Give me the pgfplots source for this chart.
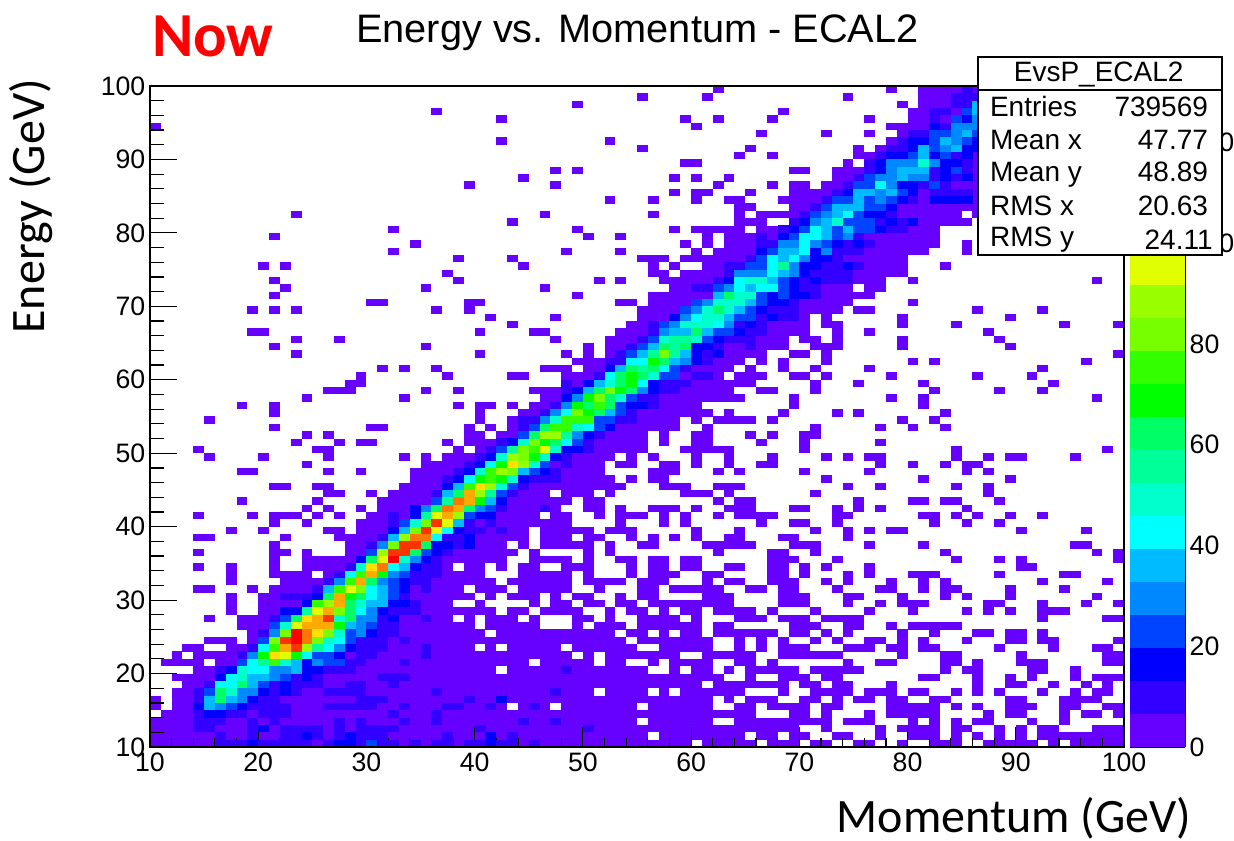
\documentclass[border=0pt]{standalone}
\usepackage{fontspec}
\setmainfont{Liberation Sans}
\newfontfamily\calib{Carlito}
\usepackage{pgfplots}
\pgfplotsset{compat=1.18}
\pgfdeclareplotmark{cell}{\pgfpathrectangle{\pgfqpoint{0pt}{0pt}}{\pgfqpoint{8.15pt}{5.55pt}}\pgfusepathqfill}
\pgfdeclareplotmark{colcell}{\pgfpathrectangle{\pgfqpoint{0pt}{0pt}}{\pgfqpoint{41.25pt}{24.9pt}}\pgfusepathqfill}
\definecolor{L0}{RGB}{102,0,255}
\pgfplotsset{colormap={rootpal}{rgb255=(102,0,255) rgb255=(51,0,255) rgb255=(0,0,255) rgb255=(0,68,255) rgb255=(0,136,255) rgb255=(0,187,255) rgb255=(0,255,255) rgb255=(0,255,204) rgb255=(0,255,153) rgb255=(0,255,102) rgb255=(0,255,0) rgb255=(51,255,0) rgb255=(119,255,0) rgb255=(153,255,0) rgb255=(224,255,0) rgb255=(255,224,0) rgb255=(255,170,0) rgb255=(255,119,0) rgb255=(255,51,0) rgb255=(255,0,0)}}
\newcommand{\tk}{\fontsize{20}{22}\selectfont}
\begin{document}
\begin{tikzpicture}[x=1pt,y=1pt]
\path[use as bounding box] (0,0) rectangle (925.5,630.75);
\begin{axis}[at={(112.5pt,70.5pt)},anchor=south west,scale only axis,width=730.5pt,height=495.75pt,
 xmin=10,xmax=100,ymin=10,ymax=100,axis on top,ytick=\empty,xtick={10,20,...,100},minor x tick num=4,
 xtick pos=bottom,tick align=inside,major tick length=15pt,minor tick length=7pt,
 tick style={black,line width=.9pt},axis line style={line width=1pt},
 tick label style={font=\tk},xticklabel style={yshift=-1pt},/pgf/number format/assume math mode=true,clip=true,colormap name=rootpal,point meta min=0,point meta max=19]
\addplot[draw=none,mark=none,forget plot,error bars/.cd,x dir=plus,x explicit,error mark=none,error bar style={line width=5.55pt,color=L0}] table[row sep=\\,header=false,x index=0,y expr=\thisrowno{1}+0.5,x error index=2]{
10 10 50\\61 10 5\\67 10 3\\71 10 2\\75 10 2\\79 10 1\\82 10 3\\87 10 5\\93 10 1\\95 10 5\\
10 11 46\\57 11 8\\66 11 2\\69 11 2\\73 11 2\\77 11 1\\80 11 3\\84 11 1\\86 11 1\\88 11 1\\90 11 1\\92 11 8\\
10 12 60\\72 12 1\\77 12 1\\79 12 4\\84 12 2\\88 12 1\\90 12 1\\92 12 2\\97 12 3\\
10 13 45\\56 13 6\\64 13 9\\74 13 3\\80 13 1\\82 13 1\\84 13 1\\86 13 2\\91 13 1\\94 13 1\\
11 14 55\\69 14 2\\72 14 1\\76 14 1\\78 14 5\\87 14 1\\89 14 2\\94 14 1\\96 14 2\\99 14 1\\
10 15 1\\12 15 31\\44 15 3\\48 15 7\\56 15 6\\64 15 2\\67 15 4\\72 15 2\\78 15 5\\84 15 1\\86 15 1\\89 15 3\\94 15 2\\98 15 2\\
10 16 1\\12 16 50\\63 16 1\\65 16 3\\70 16 2\\73 16 1\\75 16 2\\78 16 2\\82 16 2\\89 16 2\\94 16 4\\
12 17 39\\52 17 4\\57 17 1\\59 17 6\\68 17 1\\71 17 4\\76 17 3\\80 17 2\\84 17 1\\86 17 1\\88 17 1\\92 17 1\\95 17 1\\97 17 2\\
13 18 48\\62 18 7\\70 18 2\\73 18 2\\78 18 1\\86 18 1\\89 18 2\\93 18 1\\96 18 1\\98 18 1\\
12 19 51\\65 19 1\\68 19 3\\72 19 2\\81 19 2\\86 19 1\\89 19 1\\91 19 1\\95 19 1\\97 19 3\\
14 20 28\\43 20 13\\58 20 1\\60 20 2\\63 20 1\\65 20 5\\71 20 5\\83 20 1\\85 20 2\\91 20 2\\95 20 1\\
11 21 4\\16 21 29\\46 21 5\\52 21 2\\56 21 1\\58 21 4\\64 21 2\\67 21 1\\74 21 1\\77 21 2\\83 21 2\\86 21 1\\90 21 3\\98 21 2\\
12 22 1\\14 22 35\\50 22 1\\52 22 7\\61 22 5\\68 22 6\\79 22 1\\83 22 2\\90 22 1\\98 22 2\\
13 23 2\\17 23 23\\41 23 1\\43 23 5\\49 23 6\\57 23 5\\64 23 1\\66 23 1\\68 23 3\\74 23 3\\78 23 2\\81 23 2\\88 23 1\\93 23 1\\97 23 2\\
15 24 3\\19 24 35\\55 24 7\\64 24 1\\66 24 1\\68 24 1\\71 24 1\\73 24 1\\76 24 2\\79 24 1\\81 24 1\\85 24 1\\89 24 2\\92 24 2\\99 24 1\\
19 25 22\\42 25 11\\54 25 2\\57 25 1\\59 25 2\\62 25 6\\69 25 2\\72 25 1\\74 25 1\\79 25 1\\82 25 1\\86 25 2\\89 25 2\\92 25 1\\
18 26 22\\41 26 5\\49 26 1\\51 26 3\\55 26 6\\62 26 2\\69 26 3\\74 26 2\\78 26 1\\80 26 5\\
15 27 1\\18 27 20\\39 27 1\\41 27 3\\45 27 1\\49 27 2\\52 27 1\\55 27 4\\60 27 1\\64 27 3\\68 27 3\\72 27 4\\92 27 1\\98 27 2\\
17 28 1\\20 28 22\\43 28 2\\46 28 4\\52 28 1\\54 28 2\\57 28 1\\59 28 2\\62 28 4\\67 28 1\\71 28 1\\76 28 1\\80 28 1\\85 28 1\\87 28 1\\89 28 1\\92 28 3\\
17 29 1\\20 29 18\\40 29 1\\45 29 1\\47 29 2\\50 29 2\\53 29 2\\56 29 8\\68 29 3\\74 29 1\\77 29 1\\79 29 3\\87 29 2\\92 29 1\\96 29 1\\99 29 1\\
17 30 1\\20 30 20\\41 30 1\\43 30 3\\47 30 1\\49 30 2\\53 30 1\\55 30 2\\61 30 3\\68 30 3\\74 30 2\\79 30 1\\83 30 1\\85 30 1\\89 30 1\\97 30 1\\
14 31 2\\19 31 1\\21 31 18\\40 31 3\\44 31 5\\51 31 1\\55 31 2\\58 31 5\\65 31 2\\68 31 2\\73 31 1\\77 31 2\\81 31 1\\83 31 2\\89 31 1\\94 31 1\\
17 32 1\\22 32 20\\43 32 6\\50 32 4\\55 32 3\\61 32 1\\63 32 2\\67 32 3\\72 32 1\\74 32 1\\78 32 1\\81 32 1\\83 32 1\\92 32 1\\98 32 1\\
17 33 1\\21 33 4\\26 33 15\\44 33 5\\50 33 1\\54 33 1\\56 33 3\\61 33 2\\67 33 2\\70 33 1\\74 33 1\\76 33 1\\80 33 3\\88 33 1\\94 33 2\\
14 34 1\\17 34 1\\21 34 1\\24 34 14\\39 34 2\\42 34 1\\44 34 2\\48 34 3\\54 34 1\\56 34 2\\59 34 2\\63 34 2\\67 34 2\\70 34 1\\72 34 1\\76 34 1\\90 34 2\\
21 35 1\\24 35 19\\45 35 4\\50 35 1\\53 35 2\\56 35 2\\59 35 2\\67 35 3\\73 35 1\\84 35 1\\88 35 1\\90 35 1\\99 35 1\\
14 36 1\\21 36 2\\24 36 1\\28 36 16\\45 36 1\\50 36 1\\52 36 1\\62 36 1\\67 36 2\\71 36 1\\83 36 1\\97 36 1\\99 36 1\\
21 37 1\\28 37 15\\44 37 1\\46 37 5\\52 37 1\\55 37 2\\61 37 5\\69 37 3\\76 37 1\\81 37 1\\95 37 2\\
14 38 2\\22 38 1\\27 38 18\\46 38 3\\50 38 2\\54 38 1\\56 38 1\\58 38 1\\60 38 1\\63 38 2\\68 38 2\\74 38 1\\
17 39 1\\20 39 1\\26 39 2\\29 39 16\\46 39 5\\52 39 3\\60 39 1\\64 39 1\\71 39 1\\74 39 1\\76 39 1\\78 39 2\\90 39 1\\96 39 1\\
21 40 1\\24 40 1\\29 40 20\\53 40 1\\57 40 1\\59 40 1\\66 40 1\\69 40 2\\73 40 1\\82 40 1\\85 40 1\\88 40 1\\
14 41 1\\19 41 1\\21 41 3\\25 41 1\\27 41 1\\30 41 16\\47 41 2\\51 41 1\\53 41 3\\57 41 1\\59 41 1\\62 41 1\\64 41 4\\73 41 2\\81 41 2\\84 41 1\\86 41 1\\89 41 1\\92 41 1\\
24 42 1\\26 42 1\\29 42 1\\31 42 17\\50 42 2\\53 42 1\\56 42 3\\60 42 1\\63 42 3\\69 42 2\\73 42 1\\75 42 1\\77 42 1\\85 42 1\\
18 43 1\\25 43 1\\31 43 18\\50 43 2\\62 43 1\\64 43 2\\75 43 1\\80 43 2\\83 43 2\\88 43 1\\
26 44 2\\30 44 1\\32 44 15\\48 44 3\\52 44 1\\59 44 3\\63 44 1\\71 44 1\\87 44 1\\
21 45 2\\25 45 2\\33 45 21\\57 45 3\\62 45 3\\74 45 1\\77 45 1\\84 45 1\\87 45 1\\
34 46 19\\54 46 1\\56 46 2\\72 46 1\\81 46 1\\89 46 1\\
18 47 2\\26 47 1\\29 47 1\\34 47 18\\56 47 3\\62 47 1\\64 47 1\\70 47 1\\76 47 1\\85 47 1\\87 47 1\\
24 48 1\\35 48 17\\53 48 2\\57 48 2\\60 48 1\\63 48 1\\66 48 2\\77 48 1\\80 48 1\\83 48 1\\85 48 2\\
15 49 1\\20 49 1\\26 49 1\\33 49 1\\35 49 1\\37 49 16\\54 49 1\\56 49 1\\60 49 1\\63 49 1\\67 49 1\\72 49 1\\74 49 1\\76 49 2\\84 49 1\\87 49 1\\89 49 2\\95 49 1\\
14 50 1\\25 50 2\\38 50 1\\40 50 16\\59 50 5\\70 50 1\\84 50 1\\98 50 1\\
23 51 1\\27 51 1\\29 51 2\\37 51 1\\39 51 17\\57 51 1\\60 51 2\\66 51 1\\70 51 1\\77 51 1\\
24 52 1\\26 52 1\\39 52 2\\42 52 14\\57 52 1\\60 52 2\\65 52 1\\67 52 1\\70 52 2\\
21 53 1\\30 53 2\\39 53 1\\41 53 1\\43 53 16\\61 53 1\\71 53 1\\77 53 1\\80 53 1\\83 53 1\\
15 54 1\\40 54 1\\43 54 16\\60 54 1\\62 54 4\\67 54 1\\79 54 1\\82 54 1\\
21 55 1\\40 55 1\\44 55 18\\63 55 1\\68 55 1\\73 55 1\\75 55 1\\83 55 1\\
18 56 1\\21 56 1\\38 56 1\\40 56 2\\43 56 1\\45 56 16\\69 56 1\\81 56 1\\
24 57 1\\33 57 1\\46 57 19\\69 57 1\\78 57 1\\81 57 1\\97 57 1\\
26 58 3\\35 58 1\\38 58 1\\45 58 19\\66 58 2\\71 58 1\\82 58 1\\88 58 1\\92 58 1\\
28 59 2\\48 59 18\\71 59 1\\75 59 1\\81 59 1\\93 59 1\\
29 60 1\\37 60 1\\43 60 2\\48 60 15\\64 60 3\\69 60 2\\72 60 1\\78 60 1\\86 60 1\\91 60 1\\
31 61 1\\33 61 1\\36 61 1\\46 61 3\\50 61 14\\65 61 1\\68 61 1\\71 61 1\\76 61 1\\92 61 1\\
49 62 16\\66 62 1\\68 62 1\\72 62 1\\80 62 1\\82 62 1\\96 62 1\\
23 63 1\\40 63 1\\48 63 1\\50 63 1\\52 63 15\\69 63 2\\72 63 1\\99 63 1\\
21 64 1\\35 64 1\\50 64 1\\52 64 17\\71 64 3\\79 64 1\\89 64 1\\
23 65 1\\27 65 1\\47 65 1\\52 65 17\\70 65 2\\73 65 1\\79 65 1\\88 65 1\\
19 66 2\\40 66 1\\45 66 2\\53 66 18\\73 66 1\\76 66 1\\87 66 1\\
43 67 1\\54 67 17\\72 67 2\\79 67 1\\84 67 1\\94 67 1\\99 67 1\\
41 68 1\\47 68 1\\55 68 16\\72 68 1\\79 68 1\\89 68 1\\
19 69 1\\21 69 1\\23 69 1\\36 69 1\\39 69 1\\55 69 19\\75 69 2\\86 69 1\\92 69 1\\
30 70 2\\39 70 2\\53 70 2\\56 70 19\\80 70 1\\
21 71 1\\49 71 1\\56 71 21\\
22 72 1\\35 72 1\\46 72 1\\58 72 17\\76 72 2\\
21 73 1\\38 73 1\\51 73 1\\53 73 1\\57 73 21\\80 73 1\\97 73 1\\
37 74 1\\56 74 2\\59 74 21\\
20 75 1\\22 75 1\\44 75 1\\56 75 1\\58 75 1\\61 75 19\\83 75 1\\
38 76 1\\43 76 1\\55 76 3\\59 76 21\\
32 77 1\\48 77 1\\53 77 1\\60 77 1\\62 77 20\\85 77 1\\
34 78 1\\59 78 1\\61 78 1\\63 78 20\\85 78 1\\
21 79 1\\50 79 1\\53 79 1\\61 79 1\\63 79 20\\
32 80 1\\49 80 1\\58 80 1\\60 80 5\\66 80 17\\
43 81 1\\64 81 3\\69 81 17\\
23 82 1\\46 82 1\\56 82 1\\64 82 1\\66 82 19\\86 82 3\\
64 83 2\\69 83 22\\
52 84 1\\56 84 1\\60 84 1\\63 84 2\\68 84 22\\
58 85 1\\60 85 2\\65 85 1\\69 85 21\\
39 86 1\\47 86 1\\62 86 1\\67 86 1\\69 86 2\\72 86 18\\
44 87 1\\58 87 1\\60 87 1\\63 87 1\\73 87 17\\
47 88 1\\49 88 1\\69 88 2\\73 88 17\\
59 89 2\\74 89 1\\76 89 14\\
64 90 1\\67 90 1\\75 90 15\\
55 91 1\\65 91 1\\75 91 1\\77 91 13\\
42 92 1\\52 92 1\\78 92 12\\
66 93 1\\72 93 1\\76 93 1\\79 93 11\\
10 94 1\\60 94 1\\78 94 12\\
42 95 1\\59 95 1\\62 95 1\\67 95 1\\76 95 1\\80 95 10\\
36 96 1\\68 96 1\\80 96 10\\
49 97 1\\79 97 1\\81 97 9\\
55 98 1\\61 98 1\\74 98 1\\81 98 9\\
62 99 1\\78 99 1\\81 99 9\\
};
\addplot[scatter,only marks,mark=cell,scatter src=explicit,forget plot] table[row sep=\\,header=false,x index=0,y index=1,meta index=2]{
16 10 1\\17 10 1\\18 10 1\\19 10 2\\20 10 1\\21 10 1\\22 10 1\\23 10 1\\24 10 1\\26 10 1\\27 10 2\\28 10 2\\29 10 1\\30 10 3\\31 10 1\\32 10 1\\34 10 1\\36 10 1\\37 10 1\\39 10 1\\40 10 1\\41 10 2\\42 10 1\\43 10 1\\45 10 1\\
16 11 1\\19 11 1\\22 11 1\\23 11 1\\24 11 2\\25 11 1\\27 11 1\\28 11 2\\29 11 1\\30 11 1\\31 11 1\\37 11 1\\41 11 2\\43 11 1\\
14 12 1\\15 12 1\\19 12 1\\20 12 2\\22 12 1\\23 12 1\\24 12 1\\25 12 1\\27 12 1\\29 12 1\\30 12 1\\31 12 1\\32 12 1\\40 12 1\\50 12 1\\
14 13 1\\15 13 1\\16 13 1\\19 13 1\\21 13 1\\27 13 1\\29 13 1\\33 13 1\\36 13 1\\44 13 1\\47 13 1\\
14 14 1\\15 14 2\\16 14 2\\17 14 1\\18 14 1\\20 14 1\\21 14 1\\22 14 1\\32 14 1\\36 14 1\\
14 15 2\\15 15 5\\16 15 4\\17 15 3\\18 15 2\\19 15 1\\20 15 1\\21 15 1\\22 15 1\\26 15 1\\27 15 1\\28 15 1\\29 15 1\\30 15 1\\33 15 1\\37 15 1\\38 15 1\\41 15 1\\45 15 1\\
14 16 1\\15 16 5\\16 16 9\\17 16 5\\18 16 4\\19 16 2\\20 16 1\\21 16 1\\29 16 1\\30 16 1\\31 16 1\\39 16 1\\42 16 2\\
14 17 1\\15 17 3\\16 17 9\\17 17 7\\18 17 4\\19 17 4\\20 17 2\\21 17 1\\22 17 2\\23 17 1\\26 17 1\\27 17 1\\28 17 1\\29 17 1\\36 17 1\\47 17 1\\
15 18 1\\16 18 6\\17 18 6\\18 18 9\\19 18 5\\20 18 3\\21 18 1\\22 18 2\\23 18 1\\24 18 1\\25 18 1\\28 18 1\\29 18 1\\32 18 1\\
16 19 2\\17 19 6\\18 19 7\\19 19 5\\20 19 5\\21 19 4\\22 19 3\\23 19 1\\24 19 2\\25 19 1\\31 19 1\\32 19 1\\33 19 1\\
16 20 1\\17 20 2\\18 20 7\\19 20 6\\20 20 6\\21 20 4\\22 20 4\\23 20 5\\24 20 2\\25 20 2\\26 20 1\\27 20 1\\28 20 1\\48 20 1\\
18 21 3\\19 21 6\\20 21 8\\21 21 11\\22 21 7\\23 21 5\\24 21 2\\25 21 4\\26 21 3\\27 21 3\\28 21 1\\29 21 1\\33 21 1\\
18 22 1\\19 22 4\\20 22 10\\21 22 15\\22 22 14\\23 22 10\\24 22 6\\25 22 3\\26 22 3\\27 22 2\\29 22 1\\30 22 1\\35 22 1\\
19 23 1\\20 23 6\\21 23 11\\22 23 16\\23 23 18\\24 23 13\\25 23 8\\26 23 6\\27 23 4\\28 23 2\\29 23 1\\30 23 1\\31 23 1\\35 23 1\\
20 24 3\\21 24 12\\22 24 18\\23 24 19\\24 24 17\\25 24 12\\26 24 7\\27 24 6\\28 24 3\\29 24 1\\30 24 1\\31 24 1\\33 24 1\\
20 25 1\\21 25 4\\22 25 12\\23 25 19\\24 25 17\\25 25 15\\26 25 12\\27 25 7\\28 25 3\\29 25 4\\30 25 2\\31 25 1\\32 25 1\\
21 26 3\\22 26 7\\23 26 14\\24 26 16\\25 26 16\\26 26 16\\27 26 10\\28 26 5\\29 26 4\\30 26 3\\31 26 1\\32 26 1\\
21 27 1\\22 27 3\\23 27 9\\24 27 15\\25 27 16\\26 27 18\\27 27 7\\28 27 9\\29 27 4\\30 27 4\\31 27 1\\32 27 2\\35 27 1\\
22 28 2\\23 28 2\\24 28 8\\25 28 14\\26 28 16\\27 28 12\\28 28 9\\29 28 6\\30 28 4\\31 28 2\\32 28 1\\33 28 1\\34 28 1\\
24 29 2\\25 29 11\\26 29 13\\27 29 16\\28 29 9\\29 29 7\\30 29 5\\31 29 5\\32 29 2\\33 29 2\\34 29 1\\
22 30 1\\23 30 1\\24 30 1\\25 30 2\\26 30 9\\27 30 16\\28 30 10\\29 30 9\\30 30 6\\31 30 5\\32 30 3\\33 30 1\\
25 31 1\\26 31 5\\27 31 11\\28 31 14\\29 31 12\\30 31 6\\31 31 5\\32 31 3\\33 31 2\\35 31 1\\
26 32 1\\27 32 4\\28 32 11\\29 32 16\\30 32 9\\31 32 4\\32 32 3\\33 32 2\\34 32 1\\35 32 1\\
27 33 1\\28 33 6\\29 33 11\\30 33 16\\31 33 10\\32 33 4\\33 33 3\\34 33 1\\35 33 1\\36 33 1\\
28 34 1\\29 34 7\\30 34 15\\31 34 17\\32 34 6\\33 34 5\\34 34 2\\35 34 1\\36 34 1\\
29 35 2\\30 35 9\\31 35 14\\32 35 19\\33 35 7\\34 35 4\\35 35 2\\36 35 1\\
30 36 3\\31 36 13\\32 36 18\\33 36 18\\34 36 9\\35 36 3\\36 36 2\\37 36 1\\
30 37 1\\31 37 4\\32 37 12\\33 37 18\\34 37 18\\35 37 9\\36 37 2\\37 37 2\\38 37 1\\39 37 2\\
31 38 1\\32 38 5\\33 38 13\\34 38 17\\35 38 17\\36 38 6\\37 38 1\\38 38 1\\39 38 2\\
32 39 2\\33 39 5\\34 39 12\\35 39 18\\36 39 14\\37 39 6\\38 39 2\\39 39 1\\40 39 1\\42 39 1\\
32 40 1\\33 40 3\\34 40 7\\35 40 12\\36 40 18\\37 40 14\\38 40 5\\39 40 1\\41 40 1\\
32 41 1\\34 41 2\\35 41 8\\36 41 14\\37 41 16\\38 41 13\\39 41 3\\40 41 2\\41 41 2\\
34 42 2\\35 42 4\\36 42 9\\37 42 17\\38 42 16\\39 42 9\\40 42 4\\41 42 3\\42 42 1\\46 42 1\\
36 43 3\\37 43 8\\38 43 17\\39 43 16\\40 43 10\\41 43 5\\42 43 2\\
36 44 1\\37 44 5\\38 44 9\\39 44 16\\40 44 13\\41 44 8\\42 44 3\\43 44 1\\
37 45 2\\38 45 5\\39 45 11\\40 45 15\\41 45 13\\42 45 7\\43 45 3\\44 45 1\\
37 46 1\\38 46 2\\39 46 6\\40 46 10\\41 46 11\\42 46 10\\43 46 7\\44 46 2\\45 46 1\\46 46 1\\47 46 1\\
38 47 1\\39 47 2\\40 47 7\\41 47 11\\42 47 13\\43 47 12\\44 47 5\\45 47 3\\46 47 2\\47 47 1\\
39 48 1\\40 48 2\\41 48 6\\42 48 10\\43 48 15\\44 48 13\\45 48 7\\46 48 3\\48 48 1\\
40 49 1\\41 49 2\\42 49 7\\43 49 13\\44 49 12\\45 49 10\\46 49 7\\47 49 2\\48 49 1\\
41 50 1\\42 50 3\\43 50 8\\44 50 12\\45 50 11\\46 50 14\\47 50 7\\48 50 2\\49 50 2\\50 50 1\\
42 51 1\\43 51 2\\44 51 7\\45 51 12\\46 51 10\\47 51 9\\48 51 6\\49 51 3\\50 51 1\\
44 52 3\\45 52 9\\46 52 13\\47 52 13\\48 52 8\\49 52 4\\50 52 2\\51 52 1\\
44 53 1\\45 53 3\\46 53 9\\47 53 11\\48 53 11\\49 53 7\\50 53 6\\51 53 3\\52 53 2\\
44 54 1\\45 54 1\\46 54 4\\47 54 7\\48 54 11\\49 54 11\\50 54 11\\51 54 3\\52 54 3\\53 54 1\\54 54 1\\
46 55 1\\47 55 4\\48 55 6\\49 55 12\\50 55 10\\51 55 9\\52 55 5\\53 55 3\\54 55 1\\
47 56 1\\48 56 4\\49 56 10\\50 56 9\\51 56 11\\52 56 9\\53 56 3\\54 56 2\\55 56 2\\56 56 1\\
48 57 2\\49 57 4\\50 57 10\\51 57 12\\52 57 9\\53 57 7\\54 57 3\\55 57 1\\56 57 1\\
48 58 1\\49 58 2\\50 58 5\\51 58 9\\52 58 12\\53 58 10\\54 58 9\\55 58 4\\56 58 2\\57 58 1\\58 58 1\\
48 59 1\\50 59 2\\51 59 5\\52 59 7\\53 59 9\\54 59 10\\55 59 6\\56 59 2\\57 59 1\\58 59 1\\59 59 1\\
51 60 1\\52 60 6\\53 60 9\\54 60 10\\55 60 9\\56 60 7\\57 60 3\\58 60 3\\60 60 1\\61 60 1\\
52 61 2\\53 61 5\\54 61 9\\55 61 8\\56 61 9\\57 61 6\\58 61 3\\59 61 1\\
52 62 1\\53 62 1\\54 62 6\\55 62 6\\56 62 10\\57 62 9\\58 62 5\\59 62 4\\60 62 2\\61 62 1\\
53 63 1\\54 63 3\\55 63 5\\56 63 8\\57 63 12\\58 63 8\\59 63 5\\60 63 2\\61 63 1\\62 63 2\\
54 64 1\\55 64 3\\56 64 5\\57 64 9\\58 64 8\\59 64 9\\60 64 2\\61 64 2\\62 64 1\\65 64 1\\
55 65 1\\56 65 3\\57 65 7\\58 65 8\\59 65 8\\60 65 7\\61 65 3\\62 65 2\\63 65 1\\64 65 1\\65 65 1\\
56 66 1\\57 66 4\\58 66 5\\59 66 5\\60 66 9\\61 66 5\\62 66 3\\63 66 3\\64 66 2\\65 66 1\\66 66 1\\
56 67 1\\57 67 3\\58 67 4\\59 67 7\\60 67 7\\61 67 7\\62 67 6\\63 67 4\\64 67 1\\65 67 2\\66 67 1\\
58 68 2\\59 68 4\\60 68 6\\61 68 7\\62 68 7\\63 68 5\\64 68 3\\65 68 3\\66 68 1\\67 68 2\\68 68 1\\69 68 1\\
59 69 3\\60 69 4\\61 69 7\\62 69 9\\63 69 7\\64 69 5\\65 69 3\\66 69 2\\67 69 1\\68 69 1\\69 69 1\\
60 70 3\\61 70 4\\62 70 7\\63 70 7\\64 70 7\\65 70 5\\66 70 3\\67 70 2\\68 70 2\\69 70 1\\
62 71 5\\63 71 9\\64 71 7\\65 71 7\\66 71 3\\67 71 2\\68 71 3\\69 71 2\\70 71 2\\71 71 1\\
60 72 1\\61 72 1\\62 72 3\\63 72 4\\64 72 6\\65 72 5\\66 72 6\\67 72 6\\68 72 3\\69 72 2\\70 72 1\\71 72 1\\
62 73 1\\63 73 2\\64 73 6\\65 73 7\\66 73 7\\67 73 5\\68 73 3\\69 73 2\\70 73 1\\71 73 2\\72 73 1\\73 73 1\\74 73 1\\
63 74 1\\64 74 4\\65 74 4\\66 74 4\\67 74 6\\68 74 5\\69 74 4\\70 74 2\\71 74 1\\72 74 1\\73 74 1\\74 74 1\\
63 75 1\\64 75 1\\65 75 3\\66 75 3\\67 75 6\\68 75 8\\69 75 4\\70 75 2\\71 75 2\\72 75 1\\73 75 1\\74 75 2\\75 75 1\\
65 76 1\\66 76 3\\67 76 6\\68 76 5\\69 76 6\\70 76 4\\71 76 2\\72 76 2\\73 76 1\\
66 77 2\\67 77 3\\68 77 5\\69 77 5\\70 77 6\\71 77 2\\72 77 4\\73 77 1\\74 77 1\\75 77 1\\
66 78 1\\67 78 1\\68 78 4\\69 78 4\\70 78 6\\71 78 4\\72 78 3\\73 78 2\\74 78 1\\75 78 2\\76 78 1\\
66 79 1\\68 79 2\\69 79 3\\70 79 6\\71 79 6\\72 79 5\\73 79 3\\74 79 4\\75 79 1\\
68 80 1\\69 80 2\\70 80 3\\71 80 6\\72 80 5\\73 80 3\\74 80 5\\75 80 3\\76 80 3\\77 80 2\\78 80 1\\79 80 1\\
69 81 1\\70 81 2\\71 81 4\\72 81 5\\73 81 7\\74 81 3\\75 81 3\\76 81 3\\77 81 1\\78 81 2\\79 81 1\\80 81 2\\
70 82 1\\71 82 3\\72 82 4\\73 82 5\\74 82 6\\75 82 3\\76 82 2\\77 82 2\\78 82 1\\
71 83 1\\72 83 3\\73 83 5\\74 83 5\\75 83 5\\76 83 3\\77 83 3\\78 83 2\\
72 84 1\\73 84 3\\74 84 3\\75 84 5\\76 84 3\\77 84 4\\78 84 3\\79 84 2\\80 84 1\\82 84 2\\83 84 2\\84 84 2\\85 84 2\\
73 85 1\\74 85 2\\75 85 5\\76 85 5\\77 85 4\\78 85 5\\79 85 3\\80 85 2\\82 85 1\\83 85 1\\84 85 1\\85 85 1\\
74 86 1\\75 86 3\\76 86 3\\77 86 6\\78 86 4\\79 86 2\\80 86 2\\81 86 1\\82 86 3\\83 86 1\\
75 87 1\\76 87 3\\77 87 4\\78 87 4\\79 87 5\\80 87 4\\81 87 4\\82 87 1\\83 87 2\\84 87 1\\85 87 2\\
76 88 1\\77 88 2\\78 88 4\\79 88 5\\80 88 5\\81 88 5\\82 88 1\\83 88 2\\84 88 3\\85 88 1\\
76 89 1\\77 89 2\\78 89 4\\79 89 4\\80 89 4\\81 89 7\\82 89 4\\83 89 2\\84 89 2\\85 89 1\\
77 90 1\\78 90 2\\79 90 2\\80 90 3\\81 90 5\\82 90 2\\83 90 3\\84 90 1\\85 90 2\\
78 91 1\\79 91 1\\80 91 2\\81 91 5\\82 91 3\\83 91 4\\84 91 5\\85 91 2\\86 91 2\\
79 92 1\\80 92 2\\81 92 2\\82 92 3\\83 92 5\\84 92 4\\85 92 3\\86 92 2\\
80 93 1\\81 93 1\\82 93 3\\83 93 3\\84 93 4\\85 93 5\\86 93 3\\
82 94 2\\83 94 1\\84 94 4\\85 94 4\\86 94 4\\
82 95 1\\84 95 3\\85 95 2\\86 95 4\\
82 96 1\\83 96 1\\85 96 3\\86 96 5\\
84 97 1\\85 97 1\\86 97 5\\
84 98 1\\85 98 1\\86 98 1\\
85 99 1\\
};
\end{axis}
\begin{axis}[at={(112.5pt,70.5pt)},anchor=south west,scale only axis,width=730.5pt,height=495.75pt,
 xmin=10,xmax=100,ymin=10,ymax=100,xtick=\empty,ytick={10,20,...,100},minor y tick num=4,
 ytick pos=left,tick align=inside,major tick length=20pt,minor tick length=10.5pt,
 tick style={black,line width=.9pt},axis line style={line width=1pt},
 tick label style={font=\tk},/pgf/number format/assume math mode=true]
\end{axis}
\begin{axis}[at={(847.5pt,70.5pt)},anchor=south west,scale only axis,width=41.25pt,height=495pt,
 xmin=0,xmax=1,ymin=0,ymax=131,axis x line*=bottom,axis y line*=right,xtick=\empty,ytick={0,20,...,120},
 axis line style={-,line width=.8pt},tick style={black,line width=.8pt},tick align=inside,major tick length=22pt,
 tick label style={font=\tk},/pgf/number format/assume math mode=true,axis on top,colormap name=rootpal,point meta min=0,point meta max=19,clip=true]
\addplot[scatter,only marks,mark=colcell,scatter src=explicit,forget plot] table[row sep=\\,header=false,x index=0,y index=1,meta index=2]{
0 0 0\\0 6.55 1\\0 13.1 2\\0 19.65 3\\0 26.2 4\\0 32.75 5\\0 39.3 6\\0 45.85 7\\0 52.4 8\\0 58.95 9\\0 65.5 10\\0 72.05 11\\0 78.6 12\\0 85.15 13\\0 91.7 14\\0 98.25 15\\0 104.8 16\\0 111.35 17\\0 117.9 18\\0 124.45 19\\
};
\end{axis}
\node[text=red,font=\calib\bfseries\fontsize{47}{48}\selectfont,anchor=west] at (110.5,603.5) {Now};
\node[font=\fontsize{29.8}{31}\selectfont,anchor=center] at (478,606.5) {Energy vs. Momentum - ECAL2};
\node[font=\calib\fontsize{36}{38}\selectfont,anchor=east] at (897,17) {Momentum (GeV)};
\node[font=\calib\fontsize{36}{38}\selectfont,rotate=90,anchor=center] at (23,476) {Energy (GeV)};
\draw[fill=white,line width=.9pt] (733.5,439.5) rectangle (916.5,588);
\draw[line width=.9pt] (733.5,563.25) -- (916.5,563.25);
\begin{scope}[every node/.style={font=\fontsize{21}{23}\selectfont}]
\node[anchor=base] at (824,569.25) {EvsP\_ECAL2};
\node[anchor=base west] at (739,543) {Entries};\node[anchor=base east] at (909.5,543) {739569};
\node[anchor=base west] at (739,518.25) {Mean x};\node[anchor=base east] at (909.5,518.25) {47.77};
\node[anchor=base west] at (739,494.25) {Mean y};\node[anchor=base east] at (909.5,494.25) {48.89};
\node[anchor=base west] at (739,468.75) {RMS x};\node[anchor=base east] at (909.5,468.75) {20.63};
\node[anchor=base west] at (739,445.5) {RMS y};\node[anchor=base east] at (913,443.25) {24.11};
\end{scope}
\end{tikzpicture}
\end{document}
